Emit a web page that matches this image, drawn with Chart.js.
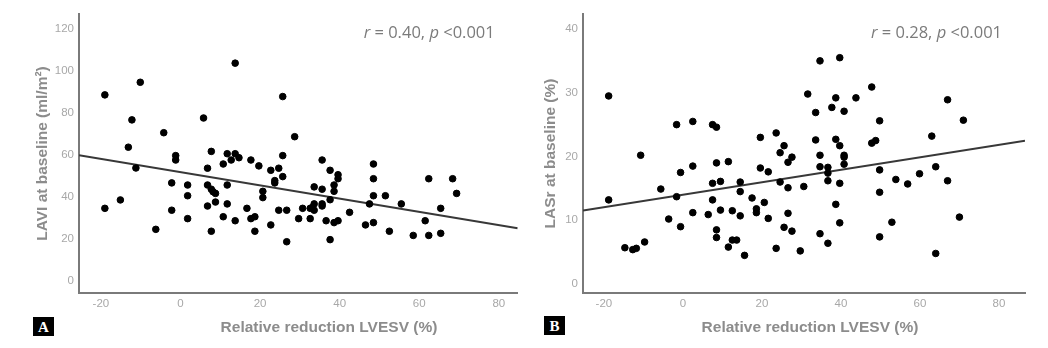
<!DOCTYPE html>
<html>
<head>
<meta charset="utf-8">
<script src="https://cdn.jsdelivr.net/npm/chart.js@4"></script>
<style>
  html, body { margin: 0; padding: 0; background: #fff; }
  body { width: 1048px; height: 348px; position: relative; overflow: hidden; }
  .box { position: absolute; }
  .tag {
    position: absolute; background: #000; color: #fff;
    font: bold 15px "Liberation Serif", "DejaVu Serif", serif;
    width: 21px; height: 19px; line-height: 20px; text-align: center;
  }
</style>
</head>
<body>
<div class="box" style="left:0;top:0;width:522px;height:348px"><canvas id="chartA"></canvas></div>
<div class="box" style="left:522px;top:0;width:526px;height:348px"><canvas id="chartB"></canvas></div>
<div class="tag" style="left:33px;top:317px">A</div>
<div class="tag" style="left:544px;top:316px">B</div>
<script>
// shared x axis
var xTicks = [-20, 0, 20, 40, 60, 80];
var xTitle = "Relative reduction LVESV (%)";

// panel A: LAVI at baseline
var reductionA = [
  -19, -19, -10.1, -12.2, -13.1, -11.2, -15.1, -4.2, -6.2, -2.2, -2.2, -1.2, -1.2,
  1.8, 1.8, 1.8, 5.8, 6.8, 6.8, 6.8, 7.75, 7.75, 8.2, 8.8, 8.8, 7.75,
  10.75, 10.75, 11.75, 11.75, 11.75, 12.75, 13.75, 13.75, 14.7, 13.75,
  16.7, 17.7, 17.7, 18.7, 18.7, 19.7, 20.7, 20.7, 22.7, 22.7, 23.7, 23.7,
  24.7, 24.7, 25.7, 25.7, 25.7, 26.7, 26.7, 28.7, 29.7, 30.7, 32.6, 32.6,
  33.6, 33.6, 33.6, 33.1, 35.6, 35.6, 35.6, 35.6, 36.6, 37.6, 37.6, 37.6,
  38.6, 38.6, 38.6, 39.6, 39.6, 39.6, 42.5, 46.5, 47.5, 48.5, 48.5, 48.5,
  48.5, 51.5, 52.5, 55.5, 58.5, 61.5, 62.4, 62.4, 65.4, 65.4, 68.4, 69.4
];
var lavi = [
  88.6, 34.6, 94.6, 76.7, 63.7, 53.8, 38.6, 70.6, 24.6, 46.7, 33.7, 59.7, 57.6,
  45.7, 40.6, 29.7, 77.6, 53.7, 45.7, 35.7, 61.7, 43.7, 42.5, 41.7, 37.6, 23.7,
  55.7, 30.6, 60.6, 45.7, 36.7, 57.6, 103.7, 60.6, 58.7, 28.7,
  34.6, 57.6, 29.7, 30.6, 23.7, 54.8, 42.7, 39.7, 26.7, 52.7, 47.8, 46.7,
  53.7, 33.7, 87.8, 59.7, 49.7, 33.7, 18.7, 68.7, 29.7, 34.6, 34.6, 29.7,
  44.8, 36.7, 33.7, 35.0, 57.6, 43.7, 36.7, 35.7, 28.7, 52.7, 38.7, 19.7,
  45.7, 42.7, 27.8, 50.6, 48.7, 28.7, 32.7, 26.7, 36.7, 55.7, 48.7, 40.6,
  27.8, 40.6, 23.7, 36.7, 21.7, 28.7, 48.7, 21.7, 34.6, 22.7, 48.7, 41.7
];
var fitA = { intercept: 51.8, slope: -0.315 };
var yTicksA = [0, 20, 40, 60, 80, 100, 120];

// panel B: LASr at baseline
var reductionB = [
  -18.8, -18.8, -14.7, -12.7, -11.8, -10.7, -9.7, -5.6, -3.6, -1.6, -1.6, -0.6, -0.6,
  2.5, 2.5, 2.5, 6.4, 7.5, 8.5, 7.5, 7.5, 8.5, 8.5, 8.5, 9.5, 9.5,
  11.5, 11.5, 12.5, 12.5, 13.6, 14.5, 14.5, 14.5, 15.6, 17.5, 18.6, 18.6,
  19.6, 19.6, 20.6, 21.6, 21.6, 23.6, 23.6, 24.6, 24.6, 25.6, 25.6, 26.6,
  26.6, 26.6, 27.6, 27.6, 29.7, 30.6, 31.6, 33.6, 33.6, 34.7, 34.7, 34.7,
  34.7, 36.7, 36.7, 36.7, 36.7, 37.7, 38.7, 38.7, 38.7, 39.7, 39.7, 39.7,
  39.7, 40.8, 40.8, 40.8, 40.8, 43.8, 47.8, 47.8, 48.8, 49.8, 49.8, 49.8,
  49.8, 52.9, 53.9, 56.9, 59.9, 63.0, 64.0, 64.0, 67.0, 67.0, 70.0, 71.0
];
var lasr = [
  29.5, 13.2, 5.7, 5.4, 5.6, 20.2, 6.6, 14.9, 10.2, 25.0, 13.7, 17.5, 9.0,
  25.5, 18.5, 11.2, 10.9, 25.0, 24.6, 15.8, 13.2, 19.0, 8.5, 7.3, 16.1, 11.6,
  19.2, 5.8, 11.5, 6.9, 6.9, 16.0, 14.5, 10.7, 4.5, 13.5, 11.8, 11.2,
  23.0, 18.2, 12.8, 17.6, 10.3, 23.7, 5.6, 20.6, 16.0, 21.7, 8.9, 19.1,
  15.1, 11.1, 19.9, 8.3, 5.2, 15.3, 29.8, 26.9, 22.6, 35.0, 20.2, 18.4,
  7.9, 18.3, 17.4, 16.2, 6.4, 27.7, 29.2, 22.7, 12.5, 35.5, 21.7, 15.8,
  9.6, 27.1, 20.2, 19.9, 18.8, 29.2, 30.9, 22.1, 22.5, 25.6, 17.9, 14.4,
  7.4, 9.7, 16.4, 15.7, 17.3, 23.2, 18.4, 4.8, 28.9, 16.2, 10.5, 25.7
];
var fitB = { intercept: 14.0, slope: 0.098 };
var yTicksB = [0, 10, 20, 30, 40];

var tickColor = "#a8a8a8";
var titleColor = "#8c8c8c";
var axisColor = "#7a7a7a";

// draws "r = 0.40, p <0.001" in the top right corner and the x axis title
var annotate = {
  id: "annotate",
  afterDraw: function (chart) {
    var o = chart.options.plugins.annotate;
    var ctx = chart.ctx;
    var area = chart.chartArea;
    ctx.save();
    ctx.fillStyle = "#7b7b7b";
    ctx.textBaseline = "alphabetic";
    var parts = [
      ["italic", "r"], ["normal", " = " + o.r + ", "], ["italic", "p"], ["normal", " <0.001"]
    ];
    var total = 0;
    parts.forEach(function (p) {
      ctx.font = p[0] + " 16.5px 'Open Sans', 'Liberation Sans', sans-serif";
      total += ctx.measureText(p[1]).width;
    });
    var x = area.right - 23 - total;
    parts.forEach(function (p) {
      ctx.font = p[0] + " 16.5px 'Open Sans', 'Liberation Sans', sans-serif";
      ctx.fillText(p[1], x, 38);
      x += ctx.measureText(p[1]).width;
    });
    ctx.font = "bold 15.5px 'Liberation Sans', Arial, sans-serif";
    ctx.fillStyle = titleColor;
    ctx.textAlign = "center";
    ctx.fillText(xTitle, o.titleX, 332);
    ctx.restore();
  }
};

function makeChart(id, xs, ys, fit, yTicks, yMin, yMax, xMin, xMax, yLabel, yWidth, titlePad, padRight, r, titleX) {
  var points = xs.map(function (v, i) { return { x: v, y: ys[i] }; });
  var line = [
    { x: xMin, y: fit.intercept + fit.slope * xMin },
    { x: xMax, y: fit.intercept + fit.slope * xMax }
  ];
  return new Chart(document.getElementById(id), {
    type: "scatter",
    data: {
      datasets: [
        {
          data: points,
          backgroundColor: "#000",
          borderColor: "#000",
          pointRadius: 3.3,
          pointHoverRadius: 3.3,
        },
        {
          type: "line",
          data: line,
          borderColor: "#383838",
          borderWidth: 2,
          pointRadius: 0,
          fill: false,
        },
      ],
    },
    options: {
      responsive: true,
      maintainAspectRatio: false,
      animation: false,
      layout: { padding: { left: 0, right: padRight, top: 14, bottom: 0 } },
      scales: {
        x: {
          type: "linear",
          min: xMin,
          max: xMax,
          afterBuildTicks: function (scale) {
            scale.ticks = xTicks.map(function (v) { return { value: v }; });
          },
          afterFit: function (scale) { scale.height = 55; },
          grid: { display: false, drawTicks: false },
          border: { display: true, color: axisColor, width: 2 },
          ticks: {
            color: tickColor,
            padding: 4,
            font: { size: 11.5, family: "'Liberation Sans', Arial, sans-serif" },
          },
        },
        y: {
          type: "linear",
          min: yMin,
          max: yMax,
          afterBuildTicks: function (scale) {
            scale.ticks = yTicks.map(function (v) { return { value: v }; });
          },
          afterFit: function (scale) { scale.width = yWidth; },
          grid: { display: false, drawTicks: false },
          border: { display: true, color: axisColor, width: 2 },
          title: {
            display: true,
            text: yLabel,
            color: titleColor,
            padding: { top: titlePad, bottom: 0 },
            font: { size: 15.5, weight: "bold", family: "'Liberation Sans', Arial, sans-serif" },
          },
          ticks: {
            color: tickColor,
            padding: 5,
            font: { size: 11.5, family: "'Liberation Sans', Arial, sans-serif" },
          },
        },
      },
      plugins: {
        legend: { display: false },
        tooltip: { enabled: false },
        annotate: { r: r, titleX: titleX },
      },
    },
    plugins: [annotate],
  });
}

makeChart("chartA", reductionA, lavi, fitA, yTicksA, -5.7, 127.1, -25.5, 84.75,
  "LAVI at baseline (ml/m²)", 79, 33, 2, "0.40", 329);
makeChart("chartB", reductionB, lasr, fitB, yTicksB, -1.4, 42.35, -25.3, 86.6,
  "LASr at baseline (%)", 61, 19, 23, "0.28", 288);
</script>
</body>
</html>
